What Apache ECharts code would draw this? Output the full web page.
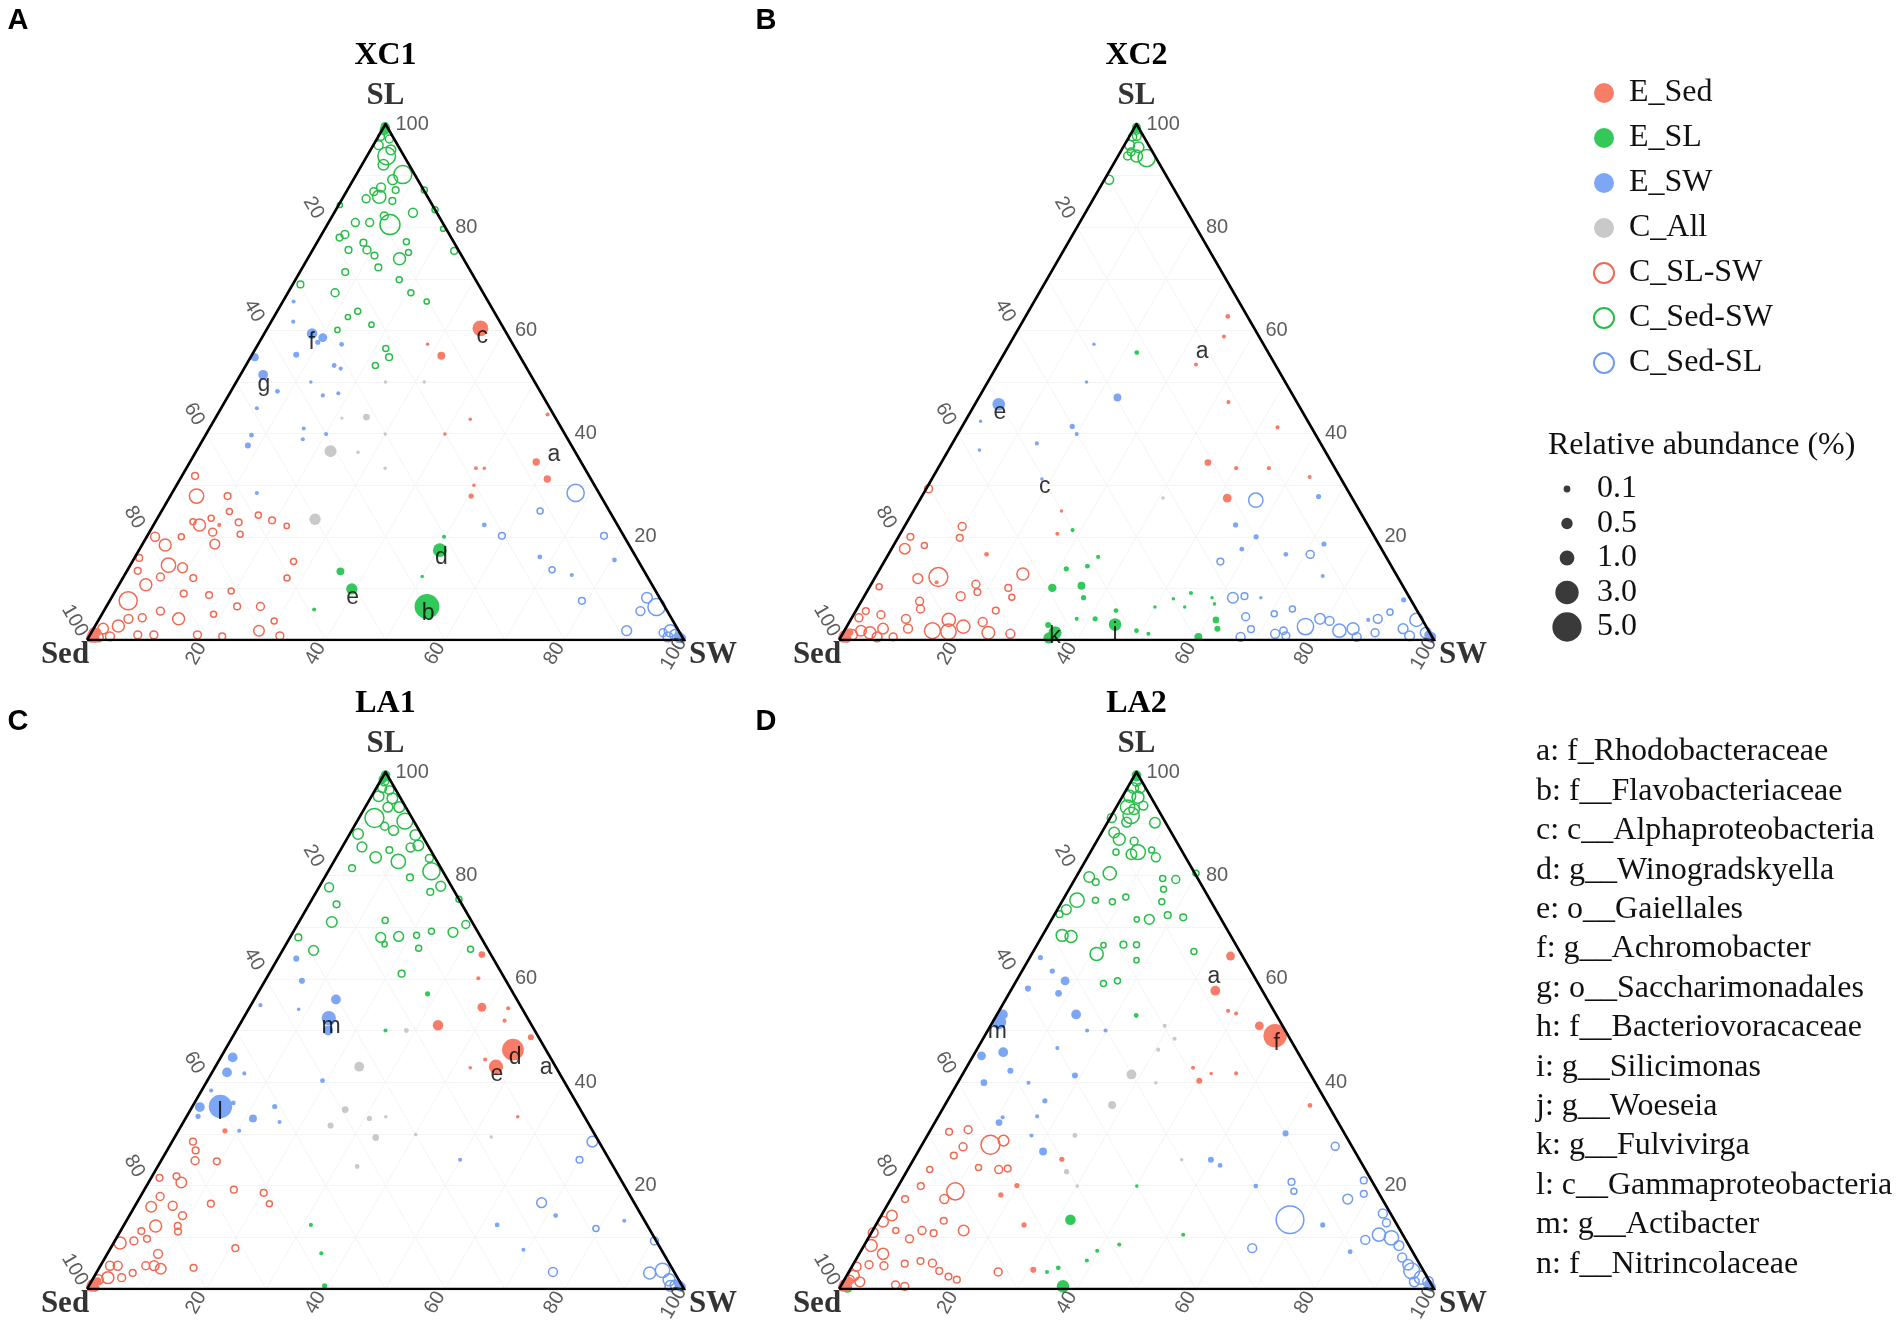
<!DOCTYPE html>
<html>
<head>
<meta charset="utf-8">
<script src="https://cdn.jsdelivr.net/npm/echarts@6/dist/echarts.min.js"></script>
<style>
html,body{margin:0;padding:0;background:#fff;}
#main{width:1902px;height:1330px;}
</style>
</head>
<body>
<div id="main"></div>
<script>
// ternary points are [SL %, SW %, relative abundance %]; Sed = 100 - SL - SW
var ticks = [20, 40, 60, 80, 100];
var panelTitles = ['XC1', 'XC2', 'LA1', 'LA2'];
var panelLetters = ['A', 'B', 'C', 'D'];
var groupNames = ['E_Sed', 'E_SL', 'E_SW', 'C_All', 'C_SL-SW', 'C_Sed-SW', 'C_Sed-SL'];
var groupColors = ['#F87D69', '#33C95A', '#7DA6F5', '#C9C9C9', '#F06A52', '#27BE47', '#6F9CF1'];
var sizeBreaks = [0.1, 0.5, 1.0, 3.0, 5.0];
var taxa = ['a: f_Rhodobacteraceae', 'b: f__Flavobacteriaceae', 'c: c__Alphaproteobacteria',
  'd: g__Winogradskyella', 'e: o__Gaiellales', 'f: g__Achromobacter', 'g: o__Saccharimonadales',
  'h: f__Bacteriovoracaceae', 'i: g__Silicimonas', 'j: g__Woeseia', 'k: g__Fulvivirga',
  'l: c__Gammaproteobacteria', 'm: g__Actibacter', 'n: f__Nitrincolaceae'];

// ---- XC1 ----
var xc1_ESed = [[60.4,35.7,1.5],[55.1,31.8,0.3],[57.3,28.4,0.03],[34.5,58.0,0.25],[31.2,61.5,0.25],[43.7,55.3,0.05],[42.8,42.8,0.03],[39.9,40.0,0.03],[33.3,48.5,0.04],[33.3,49.9,0.03],[30.0,49.8,0.03],[27.9,50.4,0.1],[22.3,11.0,0.05],[0.5,0.5,0.6],[1.0,0.3,0.4],[0.3,1.2,0.4],[1.5,1.0,0.3]];
var xc1_ESL = [[17.4,50.4,1.1],[6.5,53.7,4.0],[9.9,39.4,0.7],[13.3,35.8,0.3],[20.0,49.8,0.05],[12.3,50.0,0.03],[5.9,35.1,0.05],[99.3,0.3,0.5],[98.8,0.6,0.4],[99.6,0.1,0.3]];
var xc1_ESW = [[59.4,8.0,0.6],[58.6,10.2,0.4],[54.8,0.7,0.3],[51.4,3.8,0.5],[55.3,7.4,0.15],[57.7,9.8,0.1],[57.3,14.0,0.08],[53.2,14.8,0.08],[52.6,16.2,0.05],[48.2,7.8,0.08],[65.6,1.8,0.05],[61.7,3.7,0.05],[50.0,12.5,0.03],[47.4,15.8,0.05],[47.8,18.2,0.05],[44.9,6.0,0.05],[41.0,15.8,0.05],[38.9,16.7,0.05],[39.7,7.7,0.08],[37.7,8.1,0.15],[39.9,20.1,0.05],[28.5,14.2,0.05],[22.3,55.4,0.08],[16.1,67.8,0.08],[12.6,74.9,0.05],[15.5,80.6,0.08],[0.3,99.4,0.5],[0.8,98.8,0.4]];
var xc1_CAll = [[36.6,22.5,0.8],[23.4,26.5,0.7],[43.2,25.2,0.2],[50.0,25.0,0.03],[50.0,31.5,0.03],[39.9,30.0,0.03],[36.4,27.2,0.03],[33.3,33.3,0.03],[43.0,21.2,0.02]];
var xc1_CSLSW = [[27.9,4.4,1.2],[31.8,2.2,0.2],[27.9,9.6,0.2],[22.3,7.7,0.8],[20.9,10.6,0.3],[18.6,12.1,0.5],[24.9,11.4,0.15],[22.8,14.0,0.2],[20.5,15.4,0.15],[24.2,16.6,0.15],[23.2,19.4,0.2],[22.1,22.4,0.1],[15.2,27.0,0.15],[12.0,27.5,0.15],[9.5,19.4,0.15],[6.5,21.9,0.2],[6.5,25.8,0.3],[1.8,27.9,0.6],[0.8,31.9,0.3],[3.7,29.5,0.15],[5.0,18.7,0.15],[0.7,22.3,0.2],[1.0,18.0,0.3],[18.4,3.9,0.8],[20.0,1.4,0.4],[14.5,6.4,1.2],[14.0,9.0,0.5],[10.7,4.5,0.8],[12.2,6.2,0.3],[13.4,1.8,0.2],[7.6,3.1,2.0],[4.1,13.3,0.8],[5.6,9.5,0.3],[4.3,7.1,0.3],[2.7,3.9,0.8],[2.2,1.6,0.6],[1.4,0.5,0.5],[0.7,3.5,0.4],[4.1,4.9,0.4],[22.9,6.3,0.15],[20.0,5.8,0.15],[23.6,9.0,0.15],[15.9,0.8,0.2],[9.0,11.7,0.2],[12.0,11.8,0.2],[8.7,16.1,0.2],[1.0,10.7,0.3],[0.6,1.6,0.5],[1.0,8.0,0.3]];
var xc1_CSedSW = [[98.8,0.4,0.3],[97.5,0.5,0.2],[97.1,2.1,0.3],[95.9,0.9,0.4],[95.0,3.4,0.5],[93.8,3.3,1.9],[92.1,3.6,0.6],[90.2,7.8,2.0],[89.2,6.6,0.5],[87.7,5.4,0.4],[86.9,4.6,0.3],[85.9,6.0,1.0],[85.5,4.0,0.3],[80.5,10.5,2.5],[82.8,13.2,0.4],[73.9,15.4,0.8],[82.2,8.7,0.3],[80.9,6.9,0.3],[80.9,4.5,0.3],[78.6,3.9,0.3],[78.0,3.3,0.2],[77.0,7.8,0.2],[75.6,9.1,0.3],[74.5,10.9,0.2],[75.6,6.0,0.2],[72.2,12.7,0.2],[71.3,7.6,0.2],[75.1,16.3,0.15],[77.2,14.9,0.15],[87.2,12.9,0.15],[83.4,16.6,0.15],[75.4,23.8,0.2],[69.8,17.4,0.15],[67.3,20.6,0.15],[65.6,24.1,0.1],[67.3,7.9,0.3],[68.9,1.3,0.2],[63.7,13.5,0.15],[62.6,12.4,0.1],[61.1,17.1,0.1],[60.1,11.9,0.1],[56.5,21.8,0.15],[54.8,23.2,0.2],[53.2,21.7,0.15],[87.2,8.1,0.2],[85.1,8.6,0.2],[84.3,0.2,0.1],[79.7,19.8,0.1]];
var xc1_CSedSL = [[28.5,67.6,1.8],[25.0,63.4,0.15],[20.2,59.4,0.2],[20.2,76.5,0.2],[13.6,71.1,0.15],[7.6,79.1,0.2],[8.2,89.7,0.6],[6.4,92.2,1.8],[5.6,89.9,0.4],[1.8,89.5,0.5],[1.8,96.8,0.8],[1.0,98.0,0.6],[0.6,97.0,0.5],[0.4,99.0,0.4],[1.4,95.8,0.3]];
var xc1_letters = [['a',36.0,60.2],['b',5.1,54.6],['c',58.8,36.8],['d',15.9,51.4],['e',8.2,40.4],['f',57.7,8.8],['g',49.5,4.9]];

// ---- XC2 ----
var xc2_ESed = [[27.5,51.5,0.4],[34.4,44.8,0.2],[62.7,34.0,0.08],[58.8,35.3,0.05],[53.4,33.3,0.05],[46.1,42.4,0.05],[41.2,53.1,0.05],[33.3,50.1,0.05],[33.3,55.6,0.05],[31.6,63.3,0.05],[25.0,24.9,0.03],[20.6,26.4,0.05],[16.6,16.5,0.08],[11.2,10.8,0.05],[0.5,0.5,0.6],[1.0,0.3,0.4],[0.3,1.2,0.4],[1.5,1.0,0.3]];
var xc2_ESL = [[10.1,30.8,0.35],[10.5,35.5,0.3],[13.8,31.3,0.1],[14.3,34.6,0.08],[16.1,35.5,0.05],[8.2,37.0,0.1],[21.3,28.6,0.05],[2.9,33.7,0.15],[1.4,35.6,1.0],[0.4,35.1,0.7],[4.1,37.9,0.05],[4.1,41.0,0.1],[3.0,44.9,0.9],[5.7,43.7,0.08],[1.8,49.1,0.08],[1.2,51.4,0.05],[6.4,49.9,0.03],[8.0,52.2,0.03],[9.1,54.6,0.05],[6.4,54.9,0.03],[8.2,58.6,0.03],[7.0,59.6,0.03],[3.9,61.4,0.2],[2.2,62.5,0.15],[0.6,60.1,0.3],[55.7,22.2,0.08],[99.4,0.3,0.4],[99.0,0.5,0.3]];
var xc2_ESW = [[45.7,4.0,0.9],[42.4,2.6,0.03],[36.8,5.2,0.03],[47.0,23.3,0.3],[57.3,14.2,0.03],[50.0,16.6,0.03],[41.4,18.5,0.1],[39.9,20.0,0.05],[38.1,14.2,0.05],[31.2,18.5,0.03],[27.8,66.7,0.1],[22.3,55.5,0.1],[20.0,60.1,0.1],[17.6,58.9,0.08],[16.6,66.8,0.08],[18.6,72.2,0.1],[12.4,75.1,0.05],[8.2,66.8,0.03],[7.8,91.0,0.1],[3.9,87.0,0.05],[0.4,99.3,0.5],[1.0,98.6,0.4]];
var xc2_CAll = [[27.5,40.7,0.03]];
var xc2_CSLSW = [[29.3,0.4,0.3],[22.0,9.7,0.3],[19.8,10.4,0.2],[20.0,2.0,0.2],[17.7,2.2,0.6],[18.3,5.2,0.15],[12.2,10.6,2.2],[11.9,7.3,0.5],[10.3,1.6,0.15],[10.8,17.6,0.3],[9.3,18.6,0.2],[8.5,16.2,0.4],[10.1,23.4,0.2],[8.3,24.9,0.15],[12.8,24.5,0.8],[5.7,23.5,0.2],[7.5,9.8,0.3],[6.0,10.7,0.3],[4.9,4.6,0.3],[4.1,9.2,0.4],[2.2,10.5,0.4],[3.9,16.5,1.0],[2.6,19.6,1.0],[1.8,14.8,1.5],[1.6,17.6,1.4],[3.5,22.4,0.4],[1.4,24.4,0.9],[1.2,28.2,0.4],[2.2,6.3,0.6],[1.4,4.5,0.8],[1.8,2.8,0.6],[1.0,1.7,0.6],[4.3,1.2,0.3],[5.6,1.7,0.2],[0.6,6.1,0.5],[0.6,8.8,0.3]];
var xc2_CSedSW = [[98.8,0.6,0.3],[97.5,0.6,0.3],[97.7,1.2,0.4],[95.9,0.9,0.5],[95.5,2.6,0.6],[93.4,5.0,1.8],[93.8,3.1,0.8],[93.8,1.6,0.3],[94.6,1.8,0.3],[89.2,0.8,0.4]];
var xc2_CSedSL = [[27.1,56.5,1.2],[16.6,70.9,0.3],[15.2,56.5,0.2],[8.2,62.1,0.6],[8.5,63.9,0.2],[4.5,66.1,0.3],[0.6,67.2,0.4],[2.1,68.2,0.2],[1.2,72.7,0.4],[0.8,74.7,0.3],[2.6,77.1,1.6],[4.1,78.8,0.6],[3.7,80.6,0.4],[1.8,83.2,1.0],[2.2,85.3,0.8],[0.6,86.7,0.4],[4.1,88.5,0.4],[1.4,89.4,0.3],[2.2,93.7,0.5],[3.9,95.1,1.0],[1.4,97.9,0.6],[0.8,95.5,0.5],[6.0,73.2,0.15],[5.1,70.6,0.15],[1.8,73.8,0.25],[0.6,99.2,0.4],[5.4,89.9,0.15]];
var xc2_letters = [['a',55.9,33.1],['c',29.8,19.7],['e',44.1,5.0],['i',1.4,45.7],['k',0.6,36.0]];

// ---- LA1 ----
var la1_ESed = [[46.3,48.2,3.0],[43.0,47.0,1.2],[51.0,33.3,0.6],[54.5,38.9,0.4],[48.7,50.0,0.15],[64.7,33.8,0.2],[60.1,35.5,0.05],[54.3,43.4,0.05],[51.9,44.0,0.05],[44.4,44.5,0.05],[42.8,42.8,0.03],[33.3,55.5,0.03],[30.6,7.8,0.1],[0.5,0.5,0.6],[1.0,0.3,0.4],[0.3,1.2,0.4],[1.5,1.0,0.3]];
var la1_ESL = [[57.1,28.5,0.1],[50.0,25.0,0.05],[12.4,31.3,0.05],[6.9,35.8,0.05],[0.6,39.5,0.1],[99.4,0.3,0.5],[99.0,0.5,0.4],[98.6,0.2,0.3]];
var la1_ESW = [[35.3,4.7,3.5],[35.2,1.3,0.5],[44.8,2.0,0.5],[41.9,2.5,0.5],[56.0,13.7,0.5],[52.4,14.3,1.2],[50.0,15.4,0.5],[33.0,11.3,0.3],[35.3,13.8,0.1],[32.3,16.1,0.05],[30.6,10.2,0.05],[41.7,5.5,0.05],[36.0,6.5,0.08],[33.4,1.9,0.1],[38.4,1.6,0.05],[59.6,6.2,0.15],[63.9,3.1,0.15],[54.9,1.6,0.05],[54.1,8.4,0.03],[40.3,19.3,0.08],[25.0,50.0,0.05],[12.4,62.5,0.08],[7.6,69.3,0.05],[14.2,71.4,0.08],[13.2,83.4,0.05],[0.4,99.3,0.5],[0.9,98.7,0.4]];
var la1_CAll = [[43.0,24.1,0.5],[34.7,25.9,0.2],[31.6,25.0,0.15],[33.0,30.8,0.1],[29.3,33.7,0.2],[23.7,33.4,0.08],[50.0,28.5,0.08],[29.9,40.1,0.03],[29.4,53.0,0.03],[33.3,33.4,0.03]];
var la1_CSLSW = [[28.5,3.5,0.2],[26.8,4.8,0.2],[24.8,5.7,0.3],[24.7,9.4,0.2],[20.6,5.5,0.6],[21.8,4.1,0.2],[21.5,1.4,0.2],[17.9,3.3,0.3],[15.9,2.8,0.6],[16.1,6.3,0.4],[14.2,8.9,0.3],[12.2,5.4,0.8],[11.2,3.5,0.2],[9.3,3.2,0.3],[9.7,5.2,0.2],[12.2,9.1,0.2],[11.1,9.7,0.2],[6.8,8.5,0.4],[4.5,7.6,0.3],[4.5,9.0,0.5],[3.9,10.4,0.6],[8.9,1.1,0.8],[4.5,2.9,0.4],[2.2,4.7,0.3],[4.5,1.6,0.4],[2.2,2.4,0.8],[1.8,1.0,0.5],[3.1,6.1,0.2],[4.1,15.8,0.2],[16.5,12.5,0.2],[19.2,15.0,0.2],[18.6,20.3,0.2],[16.5,22.3,0.15],[7.9,20.9,0.2]];
var la1_CSedSW = [[98.2,0.7,0.4],[96.9,1.0,0.4],[96.5,2.4,0.4],[95.3,1.2,0.6],[94.9,3.7,0.6],[93.2,3.8,0.5],[91.1,2.6,2.2],[93.2,5.7,0.6],[90.5,8.0,1.5],[88.7,7.0,0.5],[89.5,5.1,0.3],[88.0,1.4,0.6],[87.8,11.1,0.6],[85.8,12.6,0.6],[85.5,3.3,0.5],[83.5,6.6,0.7],[84.9,8.2,0.2],[82.7,10.8,1.2],[85.4,11.5,0.4],[80.8,17.3,1.8],[83.3,15.7,0.3],[77.9,20.3,0.5],[79.6,14.3,0.2],[81.4,3.7,0.2],[77.7,1.7,0.4],[74.4,4.6,0.2],[71.0,5.5,0.6],[68.0,1.4,0.2],[65.5,5.2,0.5],[68.0,15.2,0.5],[68.2,18.1,0.5],[71.3,14.3,0.15],[66.7,16.5,0.1],[68.4,21.0,0.15],[65.9,22.6,0.15],[69.2,23.1,0.15],[69.0,26.8,0.5],[70.5,28.2,0.3],[65.7,31.4,0.15],[75.4,24.6,0.15],[76.8,19.1,0.2],[61.0,22.2,0.2]];
var la1_CSedSL = [[28.5,70.4,0.6],[25.0,70.0,0.2],[16.7,67.8,0.5],[11.7,79.4,0.15],[3.3,76.4,0.4],[9.3,90.4,0.3],[3.1,92.7,0.8],[3.6,94.6,1.2],[1.8,96.6,0.8],[0.8,98.1,0.5],[0.6,97.4,0.6]];
var la1_letters = [['a',42.8,55.5],['d',44.8,49.3],['e',41.5,47.9],['l',34.2,5.2],['m',50.8,15.5]];

// ---- LA2 ----
var la2_ESed = [[49.0,48.8,3.5],[50.9,45.2,0.4],[47.7,48.4,0.1],[57.7,34.4,0.5],[64.4,33.6,0.4],[53.8,38.5,0.05],[53.3,40.1,0.05],[42.8,38.1,0.05],[41.7,41.7,0.03],[41.7,45.9,0.05],[40.3,40.4,0.15],[35.5,61.4,0.08],[25.1,24.9,0.1],[20.0,19.9,0.1],[18.2,18.1,0.1],[12.4,24.9,0.1],[3.7,30.8,0.15],[0.5,0.5,0.6],[1.0,0.3,0.4],[0.3,1.2,0.4],[1.5,1.0,0.3]];
var la2_ESL = [[13.4,32.2,0.6],[0.5,37.4,0.9],[52.9,23.5,0.08],[19.9,40.1,0.03],[10.5,52.6,0.05],[8.6,42.8,0.05],[7.4,39.7,0.05],[5.5,38.9,0.05],[4.1,34.8,0.08],[3.3,33.3,0.05],[0.2,1.3,0.5],[99.4,0.3,0.5],[99.0,0.5,0.4]];
var la2_ESW = [[51.6,1.1,1.2],[53.1,1.0,0.5],[45.8,4.7,0.5],[45.1,1.4,0.4],[42.2,7.7,0.15],[39.9,4.4,0.2],[59.6,8.2,0.4],[57.2,8.3,0.2],[53.1,13.3,0.5],[58.1,2.7,0.15],[64.1,1.8,0.1],[61.5,5.1,0.1],[50.0,16.7,0.05],[50.0,19.8,0.05],[46.6,13.4,0.05],[41.3,19.0,0.15],[39.9,11.9,0.05],[36.4,16.4,0.1],[33.4,16.6,0.05],[33.2,10.9,0.05],[32.2,10.8,0.2],[29.7,17.5,0.05],[26.6,21.0,0.3],[30.1,60.0,0.15],[25.0,50.0,0.15],[23.9,52.1,0.08],[19.9,60.1,0.08],[12.4,75.1,0.1],[7.2,82.3,0.08],[0.4,99.3,0.5],[0.9,98.7,0.4]];
var la2_CAll = [[41.5,28.4,0.5],[35.6,28.1,0.3],[50.9,29.3,0.05],[48.4,32.2,0.05],[46.3,30.5,0.05],[39.9,33.3,0.03],[29.7,24.8,0.08],[22.7,26.9,0.1],[19.9,30.1,0.03],[25.0,45.1,0.03]];
var la2_CSLSW = [[27.9,11.5,2.2],[28.7,13.3,0.6],[30.4,3.3,0.2],[30.8,6.3,0.3],[27.5,7.1,0.3],[25.8,6.4,0.2],[23.5,11.7,0.15],[23.1,15.3,0.3],[23.3,16.7,0.2],[23.1,3.7,0.15],[18.9,10.1,1.8],[17.4,9.0,0.4],[19.9,3.8,0.2],[17.4,2.4,0.2],[14.2,1.8,0.6],[13.0,0.9,0.6],[13.2,11.0,0.2],[11.3,15.3,0.6],[11.3,8.3,0.3],[9.7,7.0,0.3],[10.8,10.5,0.2],[11.3,3.9,0.15],[10.9,0.3,0.5],[8.4,1.2,0.8],[6.8,4.0,0.7],[4.7,2.7,0.3],[4.5,5.3,0.3],[4.9,8.6,0.2],[5.4,11.0,0.2],[5.0,13.2,0.3],[3.5,15.1,0.2],[2.4,17.2,0.2],[1.8,18.9,0.2],[3.3,25.1,0.3],[0.8,9.1,0.3],[0.5,10.8,0.3],[4.3,0.8,0.4],[2.6,1.2,0.6],[1.8,0.9,0.4],[1.4,2.8,0.5]];
var la2_CSedSW = [[98.2,0.9,0.5],[96.9,1.0,0.6],[96.9,2.2,0.5],[95.3,1.2,0.8],[95.1,2.7,0.8],[93.2,1.9,1.2],[92.8,3.2,0.6],[91.6,3.3,1.6],[93.5,4.4,0.4],[90.3,3.2,0.5],[90.2,8.0,0.6],[88.3,2.1,0.6],[87.0,3.6,0.8],[86.6,6.3,0.3],[84.5,8.0,1.3],[84.1,7.1,0.6],[83.5,11.5,0.4],[84.9,10.1,0.15],[84.5,4.3,0.15],[91.1,0.3,0.4],[80.4,5.3,1.0],[79.7,2.2,0.6],[78.7,3.8,0.2],[79.4,14.7,0.15],[79.2,17.0,0.3],[77.3,15.9,0.15],[75.2,2.4,1.2],[73.4,1.5,0.5],[72.5,0.8,0.2],[75.2,5.5,0.15],[74.9,8.5,0.15],[75.8,10.3,0.15],[74.9,16.8,0.15],[71.5,16.4,0.5],[72.3,19.1,0.2],[71.9,21.9,0.2],[71.5,14.3,0.1],[68.4,3.3,0.8],[68.2,4.9,0.8],[64.8,10.9,1.0],[66.5,11.2,0.1],[66.6,14.5,0.2],[66.6,16.7,0.15],[63.6,18.2,0.1],[65.3,27.0,0.15],[59.1,14.9,0.15],[59.6,17.0,0.15],[80.4,19.8,0.15]];
var la2_CSedSL = [[13.4,69.1,5.0],[27.6,69.6,0.3],[21.0,77.7,0.2],[18.4,79.0,0.2],[17.4,76.8,0.5],[20.7,65.7,0.2],[18.9,67.0,0.15],[14.6,84.1,0.4],[12.8,85.6,0.3],[10.5,85.5,1.0],[9.9,87.9,1.2],[9.5,83.7,0.4],[8.4,89.9,0.5],[6.1,91.6,0.4],[4.7,93.3,0.6],[3.5,94.5,1.5],[2.2,96.7,1.0],[1.4,98.3,0.6],[1.4,96.0,0.5],[7.9,65.5,0.4]];
var la2_letters = [['a',60.4,32.8],['f',47.5,49.8],['m',49.8,1.7]];

var panelGroups = [
  [xc1_ESed, xc1_ESL, xc1_ESW, xc1_CAll, xc1_CSLSW, xc1_CSedSW, xc1_CSedSL],
  [xc2_ESed, xc2_ESL, xc2_ESW, xc2_CAll, xc2_CSLSW, xc2_CSedSW, xc2_CSedSL],
  [la1_ESed, la1_ESL, la1_ESW, la1_CAll, la1_CSLSW, la1_CSedSW, la1_CSedSL],
  [la2_ESed, la2_ESL, la2_ESW, la2_CAll, la2_CSLSW, la2_CSedSW, la2_CSedSL]
];
var panelLabels = [xc1_letters, xc2_letters, la1_letters, la2_letters];

// layout of the four triangles (pixels)
var grids = [
  {left: 87, top: 124, width: 597, height: 516},
  {left: 839, top: 124, width: 595, height: 516},
  {left: 87, top: 772, width: 597, height: 517},
  {left: 839, top: 772, width: 595, height: 517}
];
var letterPos = [[18, 21], [766, 21], [18, 722], [766, 722]];

function toXY(p) { return [p[1] + p[0] / 2, p[0]]; }
function dotSize(ab) { return 1.5 + 11.7 * Math.sqrt(ab); }

var chart = echarts.init(document.getElementById('main'));
var series = [];
var xAxes = [], yAxes = [];
var graphics = [];
var serif = '"Liberation Serif", "Times New Roman", serif';
var sans = '"Liberation Sans", Arial, sans-serif';

grids.forEach(function (g, i) {
  xAxes.push({gridIndex: i, type: 'value', min: 0, max: 100, show: false});
  yAxes.push({gridIndex: i, type: 'value', min: 0, max: 100, show: false});

  // faint ternary grid
  var gl = [];
  for (var v = 10; v < 100; v += 10) {
    gl.push({coords: [toXY([v, 0]), toXY([v, 100 - v])]});
    gl.push({coords: [toXY([0, v]), toXY([100 - v, v])]});
    gl.push({coords: [toXY([100 - v, 0]), toXY([0, 100 - v])]});
  }
  series.push({
    type: 'lines', coordinateSystem: 'cartesian2d', xAxisIndex: i, yAxisIndex: i,
    data: gl, silent: true, z: 1,
    lineStyle: {color: '#f4f4f4', width: 1, opacity: 1}
  });

  // points: open circles first, filled on top
  [4, 5, 6, 3, 2, 1, 0].forEach(function (k) {
    var filled = k < 4;
    series.push({
      name: groupNames[k], type: 'scatter', xAxisIndex: i, yAxisIndex: i, clip: false, z: 3,
      data: panelGroups[i][k].map(function (p) { return toXY(p).concat([p[2]]); }),
      symbolSize: function (val) { return dotSize(val[2]); },
      itemStyle: filled ? {color: groupColors[k], opacity: 1}
        : {color: 'rgba(255,255,255,0)', borderColor: groupColors[k], borderWidth: 1.5, opacity: 1},
      emphasis: {disabled: true}
    });
  });

  // triangle outline
  series.push({
    type: 'line', xAxisIndex: i, yAxisIndex: i, silent: true, z: 5, symbol: 'none',
    data: [[0, 0], [0, 100], [100, 0], [0, 0]].map(toXY),
    lineStyle: {color: '#000', width: 2.6, join: 'miter'}
  });

  // tick labels (label offsets are given in the rotated text frame)
  var tickFont = {show: true, position: 'inside', color: '#333', fontSize: 20, fontFamily: sans};
  series.push({
    type: 'scatter', xAxisIndex: i, yAxisIndex: i, symbolSize: 0, clip: false, silent: true, z: 6,
    data: ticks.map(function (t) { return {name: String(t), value: toXY([t, 100 - t])}; }),
    label: Object.assign({}, tickFont, {position: 'right', distance: 10, formatter: '{b}'})
  });
  series.push({
    type: 'scatter', xAxisIndex: i, yAxisIndex: i, symbolSize: 0, clip: false, silent: true, z: 6,
    data: ticks.map(function (t) { return {name: String(t), value: toXY([100 - t, 0])}; }),
    label: Object.assign({}, tickFont, {offset: [-23, 1], rotate: -60, formatter: '{b}'})
  });
  series.push({
    type: 'scatter', xAxisIndex: i, yAxisIndex: i, symbolSize: 0, clip: false, silent: true, z: 6,
    data: ticks.map(function (t) { return {name: String(t), value: toXY([0, t])}; }),
    label: Object.assign({}, tickFont, {offset: [-17, -2], rotate: 60, formatter: '{b}'})
  });

  // vertex names
  series.push({
    type: 'scatter', xAxisIndex: i, yAxisIndex: i, symbolSize: 0, clip: false, silent: true, z: 6,
    data: [
      {name: 'SL', value: toXY([100, 0]), label: {offset: [0, -28]}},
      {name: 'Sed', value: toXY([0, 0]), label: {offset: [-22, 15]}},
      {name: 'SW', value: toXY([0, 100]), label: {offset: [29, 15]}}
    ],
    label: {show: true, position: 'inside', formatter: '{b}', color: '#000',
      fontSize: 31, fontWeight: 'bold', fontFamily: serif}
  });

  // taxon letters
  series.push({
    type: 'scatter', xAxisIndex: i, yAxisIndex: i, symbolSize: 0, clip: false, silent: true, z: 7,
    data: panelLabels[i].map(function (l) { return {name: l[0], value: toXY([l[1], l[2]])}; }),
    label: {show: true, position: 'inside', formatter: '{b}', color: '#000', fontSize: 23, fontFamily: sans}
  });

  graphics.push({
    type: 'text', x: g.left + g.width / 2, y: g.top - 68,
    style: {text: panelTitles[i], font: 'bold 32px ' + serif, fill: '#000',
      align: 'center', verticalAlign: 'middle', textAlign: 'center', textVerticalAlign: 'middle'}
  });
  graphics.push({
    type: 'text', x: letterPos[i][0], y: letterPos[i][1],
    style: {text: panelLetters[i], font: 'bold 29px ' + sans, fill: '#000',
      align: 'center', verticalAlign: 'middle', textAlign: 'center', textVerticalAlign: 'middle'}
  });
});

// size legend
graphics.push({
  type: 'text', x: 1548, y: 446,
  style: {text: 'Relative abundance (%)', font: '32px ' + serif, fill: '#111',
    align: 'left', verticalAlign: 'middle', textAlign: 'left', textVerticalAlign: 'middle'}
});
sizeBreaks.forEach(function (s, j) {
  var y = 489 + j * 34.5;
  graphics.push({type: 'circle', shape: {cx: 1567, cy: y, r: dotSize(s) / 2 + 0.8}, style: {fill: '#3a3a3a'}});
  graphics.push({
    type: 'text', x: 1597, y: y,
    style: {text: s.toFixed(1), font: '32px ' + serif, fill: '#111',
      align: 'left', verticalAlign: 'middle', textAlign: 'left', textVerticalAlign: 'middle'}
  });
});

// taxon key
taxa.forEach(function (t, j) {
  graphics.push({
    type: 'text', x: 1536, y: 752 + j * 39.4,
    style: {text: t, font: '32px ' + serif, fill: '#111',
      align: 'left', verticalAlign: 'middle', textAlign: 'left', textVerticalAlign: 'middle'}
  });
});

chart.setOption({
  animation: false,
  grid: grids,
  xAxis: xAxes,
  yAxis: yAxes,
  legend: {
    orient: 'vertical', left: 1588, top: 72,
    itemWidth: 40, itemHeight: 20, itemGap: 13,
    selectedMode: false,
    textStyle: {fontFamily: serif, fontSize: 32, lineHeight: 32, color: '#111'},
    data: groupNames.map(function (n, k) {
      return {
        name: n, icon: 'circle',
        itemStyle: k < 4 ? {color: groupColors[k], borderWidth: 0}
          : {color: '#fff', borderColor: groupColors[k], borderWidth: 2}
      };
    })
  },
  graphic: graphics,
  series: series
});
</script>
</body>
</html>
